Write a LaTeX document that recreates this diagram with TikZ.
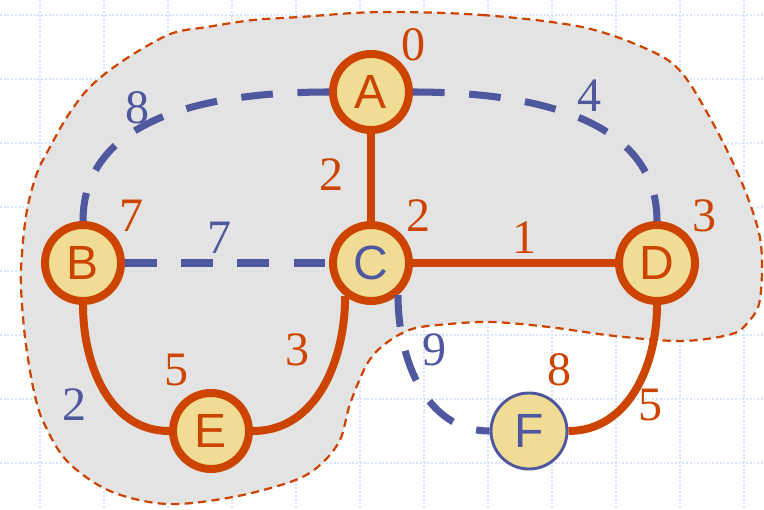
\documentclass[tikz,border=0pt]{standalone}
\usepackage{fontspec}
\usepackage{tikz}
\usetikzlibrary{positioning,calc}
\newfontfamily\lettfont{Liberation Sans}
\newfontfamily\numfont{Liberation Serif}
\definecolor{rust}{HTML}{CC4400}
\definecolor{slate}{HTML}{4F579F}
\definecolor{cream}{HTML}{F0DC94}
\definecolor{blobgray}{HTML}{E3E3E3}
\definecolor{gridblue}{HTML}{D8E2FA}

\begin{document}
\begin{tikzpicture}[x=0.03cm,y=-0.03cm,
  vx/.style={circle,draw=rust,line width=6.8pt,fill=cream,minimum size=2.28cm,inner sep=0pt,
    font=\lettfont\fontsize{41}{41}\selectfont,text=rust},
  vxout/.style={vx,draw=slate,line width=2.5pt,text=slate},
  dist/.style={font=\numfont\fontsize{41}{41}\selectfont,text=rust,inner sep=0pt},
  wlab/.style={dist,text=slate},
  tree/.style={rust,line width=6.8pt},
  cand/.style={slate,line width=6pt,dash pattern=on 27pt off 21pt},
  grd/.style={gridblue,line width=1.3pt,dash pattern=on 1.6pt off 1.6pt}]
\useasboundingbox (0,0) rectangle (764,509);
% background grid
\foreach \gx in {40,104,...,744} \draw[grd] (\gx,0) -- (\gx,509);
\foreach \gy in {15,79,...,463} \draw[grd] (0,\gy) -- (764,\gy);
% cloud
\draw[rust,fill=blobgray,line width=1.9pt,dash pattern=on 7pt off 4.5pt]
  plot[smooth cycle,tension=0.55] coordinates {(380,12) (482,15) (582,27) (649,50) (682,73) (715,127)
  (742,183) (759,233) (762,270) (759,304) (749,321) (732,334) (682,341) (615,336) (549,327)
  (492,322) (449,324) (412,329) (385,344) (367,364) (350,404) (340,440) (320,465) (293,481)
  (233,497) (167,504) (110,491) (67,461) (43,421) (33,387) (25,337) (21,287) (22,253) (27,210)
  (37,173) (50,147) (67,117) (87,90) (110,70) (140,50) (173,33) (207,27) (253,20) (300,17)};
% vertices
\node[vx] (A) at (371,92) {A};
\node[vx] (B) at (83,263) {B};
\node[vx,text=slate] (C) at (371,263) {C};
\node[vx] (D) at (657,263) {D};
\node[vx] (E) at (211,431) {E};
\node[vxout] (F) at (529,431) {F};
% edges
\draw[tree] (A) -- (C);
\draw[tree] (C) -- (D);
\draw[tree] (B) to[out=-90,in=180] (E);
\draw[tree] (C.232) to[out=-90,in=0] (E);
\draw[tree] (D) to[out=-90,in=0] (F);
\draw[cand] (A) to[out=180,in=90] (B);
\draw[cand] (A) to[out=0,in=90] (D);
\draw[cand] (B) -- (C);
\draw[cand] (C.-50) to[out=-90,in=180] (F);
% distances
\foreach \n/\x/\y/\t in {A/414/45/0,B/132/216/7,C/419/216/2,D/704/216/3,E/177/370/5,F/559/370/8}
  \node[dist] (d\n) at (\x,\y) {\t};
% weights
\node[wlab] (wAB) at (138,108) {8};
\node[wlab] (wAD) at (589,96) {4};
\node[dist] (wAC) at (332,175) {2};
\node[wlab] (wBC) at (220,238) {7};
\node[dist] (wCD) at (525,238) {1};
\node[dist] (wCE) at (298,350) {3};
\node[wlab] (wBE) at (75,405) {2};
\node[wlab] (wCF) at (435,350) {9};
\node[dist] (wDF) at (650,405) {5};
\end{tikzpicture}
\end{document}
